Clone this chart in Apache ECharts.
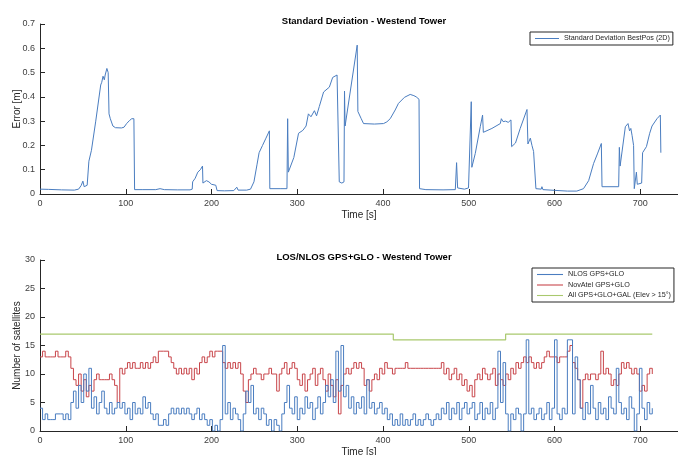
<!DOCTYPE html>
<html><head><meta charset="utf-8">
<script src="https://cdn.jsdelivr.net/npm/echarts@6/dist/echarts.min.js"></script>
<style>html,body{margin:0;padding:0;background:#fff}#c{width:678px;height:455px}</style>
</head><body><div id="c"></div>
<script>
// ---- Top chart: standard deviation BestPos (2D) ----
const sdTime = [0,10,25,40,45,48,50,51.5,55,56,57,60,65,70.8,72,73.5,75,76,78,79.5,80.5,82,85,88,95,98,101,104.5,107,109.5,110.3,120,135,140,145,160,175,177.5,178,181,184,187,189.5,190,194,197,200,205,206.5,215,226,229.5,231,241,245.5,249.5,253,255.5,259.5,263.5,267.5,268,280,288,288.8,289.6,291,296,301.5,306.5,310.3,313,316,320,322.5,325.7,330.7,337.4,341.3,346.4,348,349,350.5,352,354.5,355.1,355.8,369.9,370.7,374.6,377.3,390,400.6,404.5,408.4,414.2,418,425,431.7,436,438.7,442,442.6,450,470,484.3,485.8,487,495,499.7,502,502.9,503.6,507.6,513.4,516.1,517,527,536.8,538,540,543,546,549.2,550,554.5,560,567.9,569,571.8,573.7,575.6,577.5,578.3,584.5,585.3,586.5,600,615,626,633.8,639.8,645.6,650,654.6,655.4,674.8,675.6,676.5,682.6,685.7,687.5,689,690.5,692.2,693,695.5,696.5,701.6,702.7,705,707.2,711,713.7,719.5,723.4,724];
const sdValue = [0.020,0.019,0.017,0.016,0.020,0.035,0.053,0.030,0.036,0.036,0.135,0.18,0.30,0.449,0.46,0.485,0.47,0.49,0.517,0.50,0.33,0.31,0.28,0.273,0.272,0.275,0.29,0.303,0.31,0.31,0.018,0.018,0.018,0.022,0.018,0.017,0.017,0.02,0.05,0.065,0.09,0.1,0.115,0.045,0.055,0.05,0.04,0.036,0.014,0.013,0.014,0.028,0.016,0.016,0.02,0.05,0.12,0.17,0.2,0.23,0.26,0.022,0.022,0.022,0.31,0.09,0.085,0.15,0.25,0.262,0.28,0.33,0.318,0.343,0.322,0.36,0.42,0.44,0.48,0.49,0.485,0.05,0.055,0.045,0.05,0.424,0.28,0.613,0.34,0.31,0.29,0.288,0.29,0.297,0.31,0.346,0.373,0.398,0.41,0.405,0.40,0.39,0.022,0.018,0.017,0.018,0.129,0.025,0.02,0.025,0.03,0.38,0.11,0.167,0.277,0.325,0.254,0.27,0.29,0.31,0.298,0.30,0.295,0.305,0.195,0.21,0.27,0.348,0.206,0.23,0.2,0.175,0.174,0.022,0.02,0.03,0.018,0.015,0.012,0.012,0.022,0.055,0.126,0.165,0.208,0.03,0.03,0.192,0.115,0.277,0.29,0.26,0.27,0.24,0.2,0.022,0.09,0.04,0.045,0.17,0.168,0.195,0.25,0.28,0.31,0.325,0.17];

// ---- Bottom chart: satellites (one value every 3 s, starting at 0 s) ----
const satStep = 3;
const novatel = [
 13,14,13,13,13,13,14,13,13,13,
 14,13,11,9,8,10,7,9,6,8,
 7,9,10,9,9,9,9,10,9,8,
 5,11,10,11,12,11,12,11,11,12,
 11,12,11,12,13,12,14,14,14,14,
 13,12,11,10,11,10,11,10,11,9,
 11,10,12,13,12,13,14,13,14,14,
 14,12,11,12,11,12,11,12,10,7,
 5,9,10,11,10,10,9,10,10,11,
 10,10,7,10,11,12,10,11,12,11,
 9,8,10,7,9,10,11,8,10,11,
 9,7,10,8,6,9,3,8,10,11,
 10,11,12,11,12,11,8,9,7,9,
 10,9,11,10,12,11,11,10,11,11,
 11,11,12,11,11,11,11,11,11,11,
 11,11,11,11,11,11,12,10,11,9,
 10,11,9,10,8,9,7,8,6,9,
 10,9,11,10,9,10,11,8,10,9,
 8,10,9,11,10,12,11,12,13,12,
 13,12,11,12,11,12,13,14,13,13,
 13,12,13,13,13,14,15,12,11,9,
 4,9,10,9,10,10,9,10,14,10,
 11,10,8,9,8,10,12,11,12,11,
 10,11,10,7,8,7,10,11,10];
const nlos = [
 4,2,3,2,2,2,3,3,3,2,
 3,2,5,7,4,8,5,10,7,11,
 4,6,3,5,7,4,3,5,3,4,
 5,4,5,3,4,2,5,3,4,3,
 6,4,5,3,2,3,1,1,2,1,
 3,4,3,4,3,4,3,4,3,2,
 3,4,2,3,2,1,2,0,1,0,
 2,15,3,5,2,4,3,2,0,3,
 7,5,8,3,4,2,4,3,1,2,
 0,2,1,0,3,5,8,4,3,6,
 2,4,3,6,4,5,2,4,6,3,
 5,8,6,9,5,14,7,15,6,8,
 4,6,3,5,4,6,3,9,4,5,
 3,4,5,3,4,2,3,1,2,1,
 3,1,2,1,2,3,1,2,1,2,
 3,2,1,2,3,2,4,3,5,2,
 4,3,5,2,4,5,3,4,5,2,
 3,5,2,4,3,5,2,4,14,5,
 12,3,0,3,2,4,3,0,3,16,
 3,4,2,3,4,2,3,5,2,4,
 16,3,2,4,3,16,16,3,13,9,
 4,2,5,3,8,4,2,5,3,4,
 2,6,4,3,11,5,3,4,2,6,
 4,0,3,11,4,2,5,3,4];
const allTime = [0,412,543,714];
const allValue = [17,16,17,17];

const pairs = (t, v) => v.map((y, i) => [t[i], y]);
const stepPairs = (step, v) => v.map((y, i) => [i * step, y]);

const C_BLUE = '#4a7dc0', C_RED = '#c8454a', C_GREEN = '#a9c96e';
const FONT = 'Liberation Sans, Arial, sans-serif';
const axisCol = '#262626';

function xAxis(grid) {
  return {
    type: 'value', gridIndex: grid, min: 0, max: 744, interval: 100,
    name: 'Time [s]', nameLocation: 'middle', nameGap: 16, nameMoveOverlap: false,
    nameTextStyle: {fontFamily: FONT, fontSize: 10, color: '#262626'},
    axisLine: {show: true, lineStyle: {color: axisCol, width: 1}},
    axisTick: {show: true, inside: true, length: 5, lineStyle: {color: axisCol}},
    axisLabel: {fontFamily: FONT, fontSize: 9, color: '#404040', margin: 5, showMaxLabel: false},
    splitLine: {show: false}
  };
}
function yAxis(grid, max, interval, name, fmt) {
  return {
    type: 'value', gridIndex: grid, min: 0, max: max, interval: interval,
    name: name, nameLocation: 'middle', nameGap: 18, nameRotate: 90, nameMoveOverlap: false,
    nameTextStyle: {fontFamily: FONT, fontSize: 10, color: '#262626'},
    axisLine: {show: true, lineStyle: {color: axisCol, width: 1}},
    axisTick: {show: true, inside: true, length: 5, lineStyle: {color: axisCol}},
    axisLabel: {fontFamily: FONT, fontSize: 9, color: '#404040', margin: 5, formatter: fmt},
    splitLine: {show: false}
  };
}

const chart = echarts.init(document.getElementById('c'), null, {renderer: 'canvas'});
chart.setOption({
  animation: false,
  backgroundColor: '#fff',
  title: [
    {text: 'Standard Deviation - Westend Tower', left: 359, top: 11, textAlign: 'center',
     textStyle: {fontFamily: FONT, fontSize: 9.5, fontWeight: 'bold', color: '#000'}},
    {text: 'LOS/NLOS GPS+GLO - Westend Tower', left: 359, top: 247, textAlign: 'center',
     textStyle: {fontFamily: FONT, fontSize: 9.5, fontWeight: 'bold', color: '#000'}}
  ],
  legend: [
    {data: ['Standard Deviation BestPos (2D)'], left: 530, top: 32, orient: 'vertical',
     backgroundColor: '#fff', borderColor: '#262626', borderWidth: 1, padding: [3, 3, 3, 5],
     itemWidth: 24, itemHeight: 8, itemGap: 4, icon: 'path://M0,4 L24,4 L24,5 L0,5 Z',
     textStyle: {fontFamily: FONT, fontSize: 7.2, color: '#262626'}},
    {data: ['NLOS GPS+GLO', 'NovAtel GPS+GLO', 'All GPS+GLO+GAL (Elev > 15°)'], left: 532, top: 268, orient: 'vertical',
     backgroundColor: '#fff', borderColor: '#262626', borderWidth: 1, padding: [3, 3, 3, 5], itemGap: 3.5,
     itemWidth: 26, itemHeight: 8, icon: 'path://M0,4 L24,4 L24,5 L0,5 Z',
     textStyle: {fontFamily: FONT, fontSize: 7.2, color: '#262626'}}
  ],
  grid: [
    {left: 40, top: 24, width: 638, height: 170, outerBoundsMode: 'none', containLabel: false},
    {left: 40, top: 260, width: 638, height: 171, outerBoundsMode: 'none', containLabel: false}
  ],
  xAxis: [xAxis(0), xAxis(1)],
  yAxis: [
    yAxis(0, 0.7, 0.1, 'Error [m]', v => String(Math.round(v * 10) / 10)),
    yAxis(1, 30, 5, 'Number of satellites', v => String(v))
  ],
  series: [
    {name: 'Standard Deviation BestPos (2D)', type: 'line', xAxisIndex: 0, yAxisIndex: 0,
     data: pairs(sdTime, sdValue), showSymbol: false, symbol: 'none',
     lineStyle: {color: C_BLUE, width: 1}, itemStyle: {color: C_BLUE}},
    {name: 'NLOS GPS+GLO', type: 'line', step: 'end', xAxisIndex: 1, yAxisIndex: 1,
     data: stepPairs(satStep, nlos), symbol: 'none', z: 3,
     lineStyle: {color: C_BLUE, width: 1}, itemStyle: {color: C_BLUE}},
    {name: 'NovAtel GPS+GLO', type: 'line', step: 'end', xAxisIndex: 1, yAxisIndex: 1,
     data: stepPairs(satStep, novatel), symbol: 'none', z: 2,
     lineStyle: {color: C_RED, width: 1}, itemStyle: {color: C_RED}},
    {name: 'All GPS+GLO+GAL (Elev > 15°)', type: 'line', step: 'end', xAxisIndex: 1, yAxisIndex: 1,
     data: pairs(allTime, allValue), symbol: 'none', z: 1,
     lineStyle: {color: C_GREEN, width: 1.2}, itemStyle: {color: C_GREEN}}
  ]
});
</script></body></html>
